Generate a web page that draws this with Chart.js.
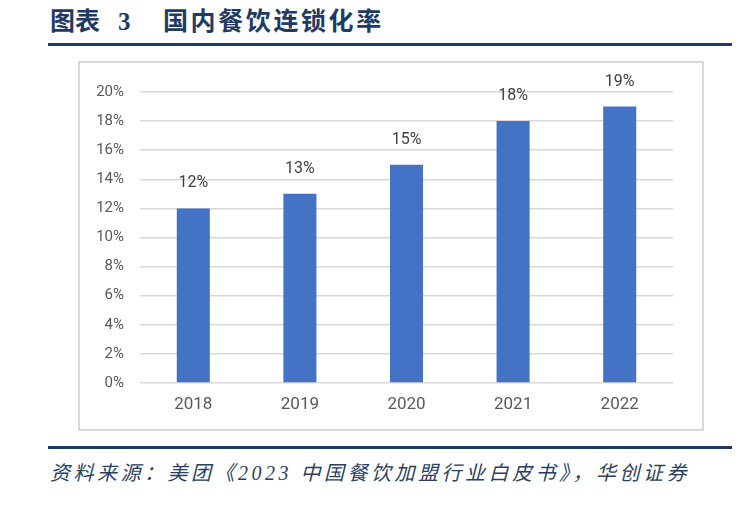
<!DOCTYPE html>
<html>
<head>
<meta charset="utf-8">
<script src="https://cdn.jsdelivr.net/npm/chart.js@4.4.1/dist/chart.umd.min.js"></script>
<style>
  html,body{margin:0;padding:0;background:#fff;width:745px;height:505px;overflow:hidden;}
  .title{position:absolute;left:50px;top:5px;font-family:"Liberation Serif","Noto Sans CJK SC",serif;font-weight:700;font-size:25px;color:#1F3B63;white-space:nowrap;line-height:34px;}
  .title span{position:absolute;top:0;white-space:nowrap;}
  .rule{position:absolute;left:48px;width:684px;height:3px;background:#1F3B63;}
  .box{position:absolute;left:78px;top:61px;width:622px;height:366px;border:2px solid #D9D9D9;}
  #wrap{position:absolute;left:0;top:0;width:622px;height:366px;}
  .src{position:absolute;left:50px;top:459px;font-family:"Liberation Serif","Noto Sans CJK SC",serif;font-style:italic;font-size:20px;letter-spacing:3.5px;color:#2B3E5E;white-space:nowrap;line-height:28px;}
</style>
</head>
<body>
<div class="title"><span style="left:0;letter-spacing:0px;">图表</span><span style="left:68px;">3</span><span style="left:113px;letter-spacing:2.6px;">国内餐饮连锁化率</span></div>
<div class="rule" style="top:43px;"></div>
<div class="box"><div id="wrap"><canvas id="c"></canvas></div></div>
<div class="rule" style="top:446px;"></div>
<div class="src">资料来源：美团《2023 中国餐饮加盟行业白皮书》，华创证券</div>
<script>
const categories = ["2018","2019","2020","2021","2022"];
const chainRate = [12, 13, 15, 18, 19];
const yTickValues = [0,2,4,6,8,10,12,14,16,18,20];

const dataLabels = {
  id:'dataLabels',
  afterDatasetsDraw(chart){
    const ctx = chart.ctx;
    const meta = chart.getDatasetMeta(0);
    ctx.save();
    ctx.font = '16px Roboto';
    ctx.fillStyle = '#404040';
    ctx.textAlign = 'center';
    ctx.textBaseline = 'bottom';
    meta.data.forEach((bar,i)=>{
      ctx.fillText(chainRate[i] + '%', bar.x, bar.y - 17);
    });
    ctx.restore();
  }
};

new Chart(document.getElementById('c'), {
  type:'bar',
  data:{
    labels:categories,
    datasets:[{data:chainRate, backgroundColor:'#4472C4', barPercentage:0.31, categoryPercentage:1}]
  },
  options:{
    responsive:true,
    maintainAspectRatio:false,
    animation:false,
    layout:{padding:{top:29,right:29,left:0,bottom:0}},
    plugins:{legend:{display:false},tooltip:{enabled:false}},
    scales:{
      x:{
        grid:{display:false,drawTicks:false},
        border:{display:false},
        ticks:{color:'#595959',font:{family:'Roboto',size:17},padding:12},
        afterFit(s){s.height=46;}
      },
      y:{
        min:0,max:20,
        afterBuildTicks(s){s.ticks = yTickValues.map(v=>({value:v}));},
        grid:{color:'#D9D9D9',lineWidth:1.5,drawTicks:false},
        border:{display:false},
        ticks:{color:'#595959',font:{family:'Roboto',size:15},padding:16,callback:v=>v+'%'},
        afterFit(s){s.width=60;}
      }
    }
  },
  plugins:[dataLabels]
});
</script>
</body>
</html>
